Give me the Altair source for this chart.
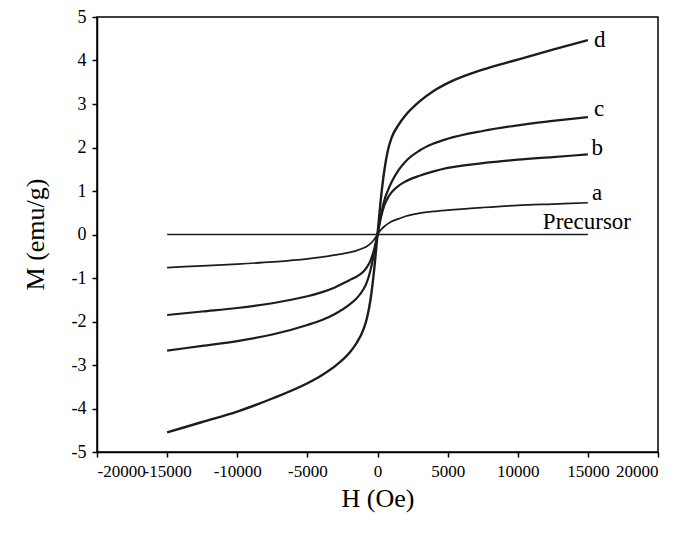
import altair as alt
import pandas as pd

H = [-15000, -12500, -10000, -7500, -5000, -4000, -3000, -2000, -1500, -1000, -750, -500, -250, 0,
     250, 500, 750, 1000, 1500, 2000, 3000, 4000, 5000, 7500, 10000, 12500, 15000]

M_d = [-4.55, -4.31, -4.07, -3.77, -3.42, -3.24, -3.02, -2.72, -2.50, -2.18, -1.92, -1.50, -0.85, 0.0,
       0.85, 1.50, 1.95, 2.22, 2.52, 2.74, 3.06, 3.30, 3.48, 3.79, 4.02, 4.25, 4.47]
M_c = [-2.67, -2.56, -2.45, -2.30, -2.08, -1.97, -1.82, -1.61, -1.47, -1.26, -1.09, -0.82, -0.44, 0.0,
       0.45, 0.80, 1.02, 1.20, 1.48, 1.68, 1.93, 2.09, 2.20, 2.38, 2.51, 2.61, 2.70]
M_b = [-1.85, -1.77, -1.69, -1.58, -1.42, -1.33, -1.21, -1.05, -0.97, -0.85, -0.75, -0.60, -0.35, 0.0,
       0.40, 0.68, 0.85, 0.97, 1.12, 1.22, 1.35, 1.45, 1.53, 1.64, 1.72, 1.78, 1.84]
M_a = [-0.76, -0.72, -0.68, -0.63, -0.56, -0.52, -0.47, -0.41, -0.37, -0.31, -0.27, -0.21, -0.12, 0.0,
       0.11, 0.19, 0.25, 0.30, 0.36, 0.42, 0.49, 0.53, 0.56, 0.62, 0.67, 0.70, 0.73]
H_pre = [-15000, 15000]
M_pre = [0.0, 0.0]

label_text = ["d", "c", "b", "a", "Precursor"]
label_H = [15430, 15430, 15250, 15300, 11790]
label_M = [4.47, 2.88, 1.99, 0.95, 0.29]
label_size = [23, 23, 23, 23, 23]

rows = []
for name, ms, w in [("d", M_d, 2.4), ("c", M_c, 2.2), ("b", M_b, 2.2), ("a", M_a, 1.7)]:
    for h, m in zip(H, ms):
        rows.append({"series": name, "H": h, "M": m, "w": w})
for h, m in zip(H_pre, M_pre):
    rows.append({"series": "Precursor", "H": h, "M": m, "w": 1.6})
df = pd.DataFrame(rows)

labels = pd.DataFrame({"text": label_text, "H": label_H, "M": label_M, "size": label_size})

xs = alt.Scale(domain=[-20000, 20000], nice=False, zero=False)
ys = alt.Scale(domain=[-5, 5], nice=False, zero=False)

font = "Liberation Serif"

xaxis = alt.Axis(values=list(range(-20000, 20001, 5000)), labelExpr="'' + datum.value",
                 labelOverlap=False, grid=False,
                 title="H (Oe)", titleFont=font, titleFontSize=26, titleFontWeight="normal",
                 titleY=46, titleBaseline="middle", titleColor="black",
                 labelFont=font, labelFontSize=17, labelColor="black", labelPadding=6,
                 tickSize=5, tickColor="black", domainColor="black", domainWidth=1.5, tickWidth=1.5)
yaxis = alt.Axis(values=list(range(-5, 6)), labelExpr="'' + datum.value",
                 labelOverlap=False, grid=False,
                 title="M (emu/g)", titleFont=font, titleFontSize=26, titleFontWeight="normal",
                 titleX=-62, titleY=217, titleAngle=-90, titleBaseline="middle", titleAlign="center",
                 titleColor="black",
                 labelFont=font, labelFontSize=18, labelColor="black", labelPadding=6,
                 tickSize=5, tickColor="black", domainColor="black", domainWidth=1.5, tickWidth=1.5)

lines = alt.Chart(df).mark_line(color="#1c1c1c", interpolate="monotone").encode(
    x=alt.X("H:Q", scale=xs, axis=xaxis),
    y=alt.Y("M:Q", scale=ys, axis=yaxis),
    detail="series:N",
    strokeWidth=alt.StrokeWidth("w:Q", scale=None),
)

texts = alt.Chart(labels).mark_text(align="left", baseline="middle", font=font, color="black").encode(
    x=alt.X("H:Q", scale=xs),
    y=alt.Y("M:Q", scale=ys),
    text="text:N",
    size=alt.Size("size:Q", scale=None),
)

chart = alt.layer(lines, texts).properties(
    width=561, height=435,
    autosize=alt.AutoSizeParams(type="none"),
    padding={"left": 97, "top": 17, "right": 26, "bottom": 83},
    background="white",
).configure_view(stroke="black", strokeWidth=1.5)

chart.save("out.html", embed_options={"renderer": "svg", "actions": False})
